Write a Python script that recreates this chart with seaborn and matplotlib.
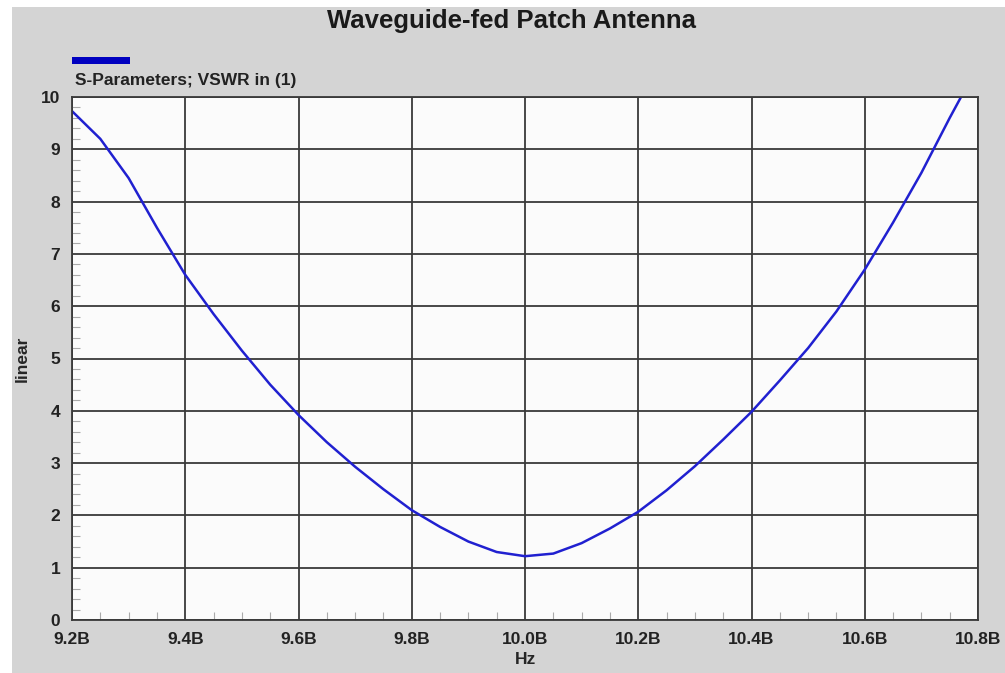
import seaborn as sns
import matplotlib.pyplot as plt
import matplotlib.ticker as mticker
import matplotlib.patches as mpatches
import pandas as pd

# frequency in GHz (axis shows billions of Hz) and VSWR
freq = [9.20, 9.25, 9.30, 9.35, 9.40, 9.45, 9.50, 9.55, 9.60, 9.65, 9.70,
        9.75, 9.80, 9.85, 9.90, 9.95, 10.00, 10.05, 10.10, 10.15, 10.20,
        10.25, 10.30, 10.35, 10.40, 10.45, 10.50, 10.55, 10.60, 10.65,
        10.70, 10.75, 10.77]
vswr = [9.73, 9.20, 8.45, 7.50, 6.60, 5.85, 5.15, 4.50, 3.92, 3.40, 2.93,
        2.50, 2.10, 1.78, 1.50, 1.30, 1.22, 1.27, 1.47, 1.75, 2.07,
        2.48, 2.94, 3.45, 3.98, 4.58, 5.20, 5.90, 6.70, 7.60,
        8.55, 9.60, 10.00]
x_ticks = [9.2, 9.4, 9.6, 9.8, 10.0, 10.2, 10.4, 10.6, 10.8]
y_ticks = list(range(0, 11))

df = pd.DataFrame({"freq": freq, "vswr": vswr})

sns.set_style("white")
plt.rcParams["font.family"] = ["Liberation Sans", "DejaVu Sans"]

fig = plt.figure(figsize=(10.05, 6.73), dpi=100, facecolor="white")
# grey panel behind everything
fig.patches.append(mpatches.Rectangle((12 / 1005, 0), 1 - 12 / 1005, 1 - 7 / 673,
                                      transform=fig.transFigure, facecolor="#d4d4d4",
                                      edgecolor="none", zorder=-10))
ax = fig.add_axes([72 / 1005, 1 - 620 / 673, (978 - 72) / 1005, (620 - 97) / 673])
ax.set_facecolor("#fbfbfb")

sns.lineplot(data=df, x="freq", y="vswr", ax=ax, color="#2020d0", linewidth=1.8)

ax.set_xlim(9.2, 10.8)
ax.set_ylim(0, 10)
ax.set_xticks(x_ticks)
ax.set_xticklabels([f"{t:.1f}B" for t in x_ticks])
ax.set_yticks(y_ticks)
ax.set_yticklabels([str(t) for t in y_ticks])
ax.xaxis.set_minor_locator(mticker.MultipleLocator(0.05))
ax.yaxis.set_minor_locator(mticker.MultipleLocator(0.2))
ax.grid(True, which="major", color="#3a3a3a", linewidth=1.3)
ax.tick_params(which="major", direction="out", length=7.5, width=1.3, color="#3a3a3a",
               labelsize=12.5, pad=1)
ax.tick_params(which="minor", direction="in", length=5.5, width=0.8, color="#aaaaaa",
               bottom=True, left=True)
for lab in ax.get_xticklabels() + ax.get_yticklabels():
    lab.set_fontweight("bold")
    lab.set_color("#222222")
for sp in ax.spines.values():
    sp.set_color("#3a3a3a")
    sp.set_linewidth(1.3)

ax.set_xlabel("Hz", fontsize=12.5, fontweight="bold", va="center")
ax.xaxis.set_label_coords(0.5, -40 / 523)
ax.set_ylabel("linear", fontsize=12.5, fontweight="bold", labelpad=8)

fig.text(511 / 1005, 1 - 21 / 673, "Waveguide-fed Patch Antenna", ha="center",
         va="center", fontsize=18.5, fontweight="bold", color="#1a1a1a")
fig.patches.append(mpatches.Rectangle((72 / 1005, 1 - 64 / 673), 58 / 1005, 7 / 673,
                                      transform=fig.transFigure, facecolor="#0000c0",
                                      edgecolor="none"))
fig.text(75 / 1005, 1 - 80 / 673, "S-Parameters; VSWR in (1)", ha="left",
         va="center", fontsize=12.5, fontweight="bold", color="#222222")

fig.savefig("out.png", dpi=100, facecolor=fig.get_facecolor())
